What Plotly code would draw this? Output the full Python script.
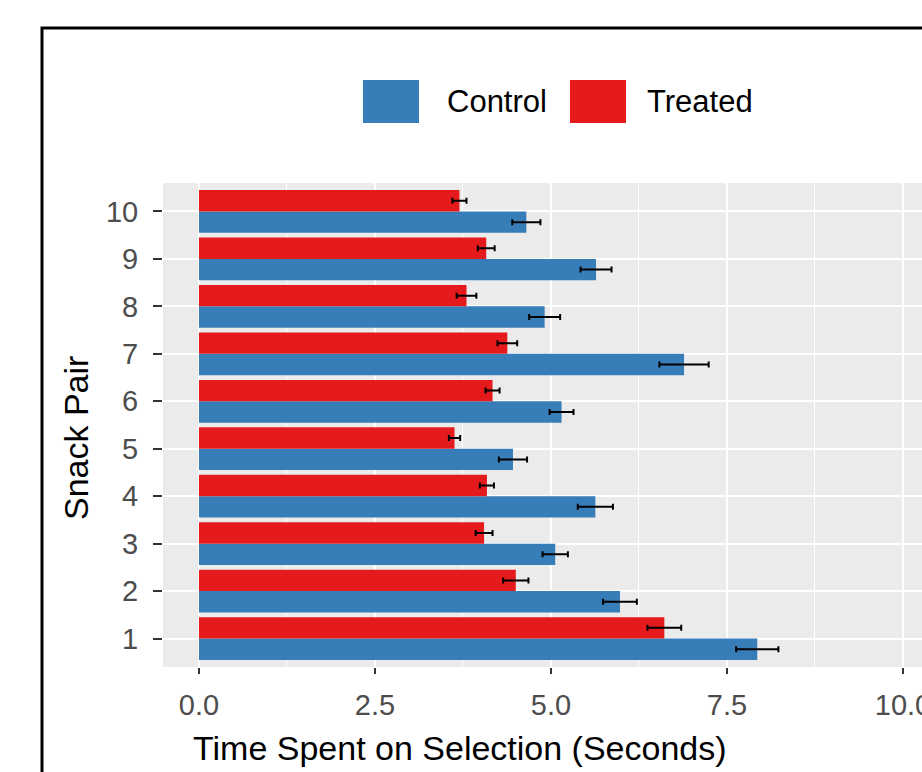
import plotly.graph_objects as go

# Mean time spent per snack pair, with standard errors
pairs = ["1", "2", "3", "4", "5", "6", "7", "8", "9", "10"]
control = [7.93, 5.98, 5.06, 5.63, 4.46, 5.15, 6.89, 4.91, 5.64, 4.65]
control_se = [0.30, 0.24, 0.18, 0.25, 0.20, 0.17, 0.35, 0.22, 0.22, 0.20]
treated = [6.61, 4.50, 4.05, 4.09, 3.63, 4.17, 4.38, 3.80, 4.08, 3.70]
treated_se = [0.24, 0.18, 0.12, 0.10, 0.08, 0.10, 0.14, 0.14, 0.12, 0.10]

x_ticks = [0, 2.5, 5, 7.5, 10]
x_ticktext = ["0.0", "2.5", "5.0", "7.5", "10.0"]
x_minor = [1.25, 3.75, 6.25, 8.75]

colors = {"Control": "#377EB8", "Treated": "#E41A1C"}

W, H = 922, 772
L, R, T, B = 163, 0, 183, 105
PW, PH = W - L - R, H - T - B
FONT = "Liberation Sans, Arial, sans-serif"


def px(x):
    return (x - L) / PW


def py(y):
    return (H - B - y) / PH


fig = go.Figure()
for name, vals, se in [("Control", control, control_se), ("Treated", treated, treated_se)]:
    fig.add_trace(go.Bar(
        y=pairs, x=vals, name=name, orientation="h",
        marker=dict(color=colors[name], line=dict(width=0)),
        error_x=dict(type="data", array=se, visible=True,
                     color="black", thickness=2, width=3),
        showlegend=False,
    ))

shapes = [
    # outer frame
    dict(type="rect", xref="paper", yref="paper",
         x0=px(42), x1=px(940), y0=py(28), y1=py(790),
         line=dict(color="black", width=3), fillcolor="rgba(0,0,0,0)",
         layer="above"),
]
annotations = []

# legend keys and labels
legend_items = [("Control", 363, 445), ("Treated", 570, 645)]
for name, kx, tx in legend_items:
    shapes.append(dict(type="rect", xref="paper", yref="paper",
                       x0=px(kx), x1=px(kx + 56), y0=py(123), y1=py(80),
                       fillcolor=colors[name], line=dict(width=0)))
    annotations.append(dict(text=name, xref="paper", yref="paper",
                            x=px(tx), y=py(102), xanchor="left", yanchor="middle",
                            showarrow=False,
                            font=dict(family=FONT, size=31, color="black")))

annotations.append(dict(text="Time Spent on Selection (Seconds)",
                        xref="paper", yref="paper", x=px(460), y=py(748),
                        xanchor="center", yanchor="middle", showarrow=False,
                        font=dict(family=FONT, size=34, color="black")))
annotations.append(dict(text="Snack Pair", textangle=-90,
                        xref="paper", yref="paper", x=px(76), y=py(438),
                        xanchor="center", yanchor="middle", showarrow=False,
                        font=dict(family=FONT, size=34, color="black")))

fig.update_layout(
    width=W, height=H,
    margin=dict(l=L, r=R, t=T, b=B, pad=0),
    paper_bgcolor="white", plot_bgcolor="#EBEBEB",
    barmode="group", bargap=0.1, bargroupgap=0,
    shapes=shapes, annotations=annotations,
    font=dict(family=FONT),
    xaxis=dict(
        range=[-0.511, 10.27], tickvals=x_ticks, ticktext=x_ticktext,
        showgrid=True, gridcolor="white", gridwidth=2,
        minor=dict(tickvals=x_minor, showgrid=True, gridcolor="white",
                   gridwidth=1, ticks=""),
        ticks="outside", ticklen=6, tickwidth=2, tickcolor="#333333",
        tickfont=dict(family=FONT, size=29, color="#4D4D4D"),
        ticklabelstandoff=6, ticklabeloverflow="allow",
        zeroline=False, showline=False, automargin=False,
    ),
    yaxis=dict(
        type="category", categoryorder="array", categoryarray=pairs,
        range=[-0.6, 9.6],
        showgrid=True, gridcolor="white", gridwidth=2,
        ticks="outside", ticklen=9, tickwidth=2, tickcolor="#333333",
        tickfont=dict(family=FONT, size=29, color="#4D4D4D"),
        ticklabelstandoff=9, ticklabeloverflow="allow",
        zeroline=False, showline=False, automargin=False,
    ),
)

fig.write_html("out.html")
